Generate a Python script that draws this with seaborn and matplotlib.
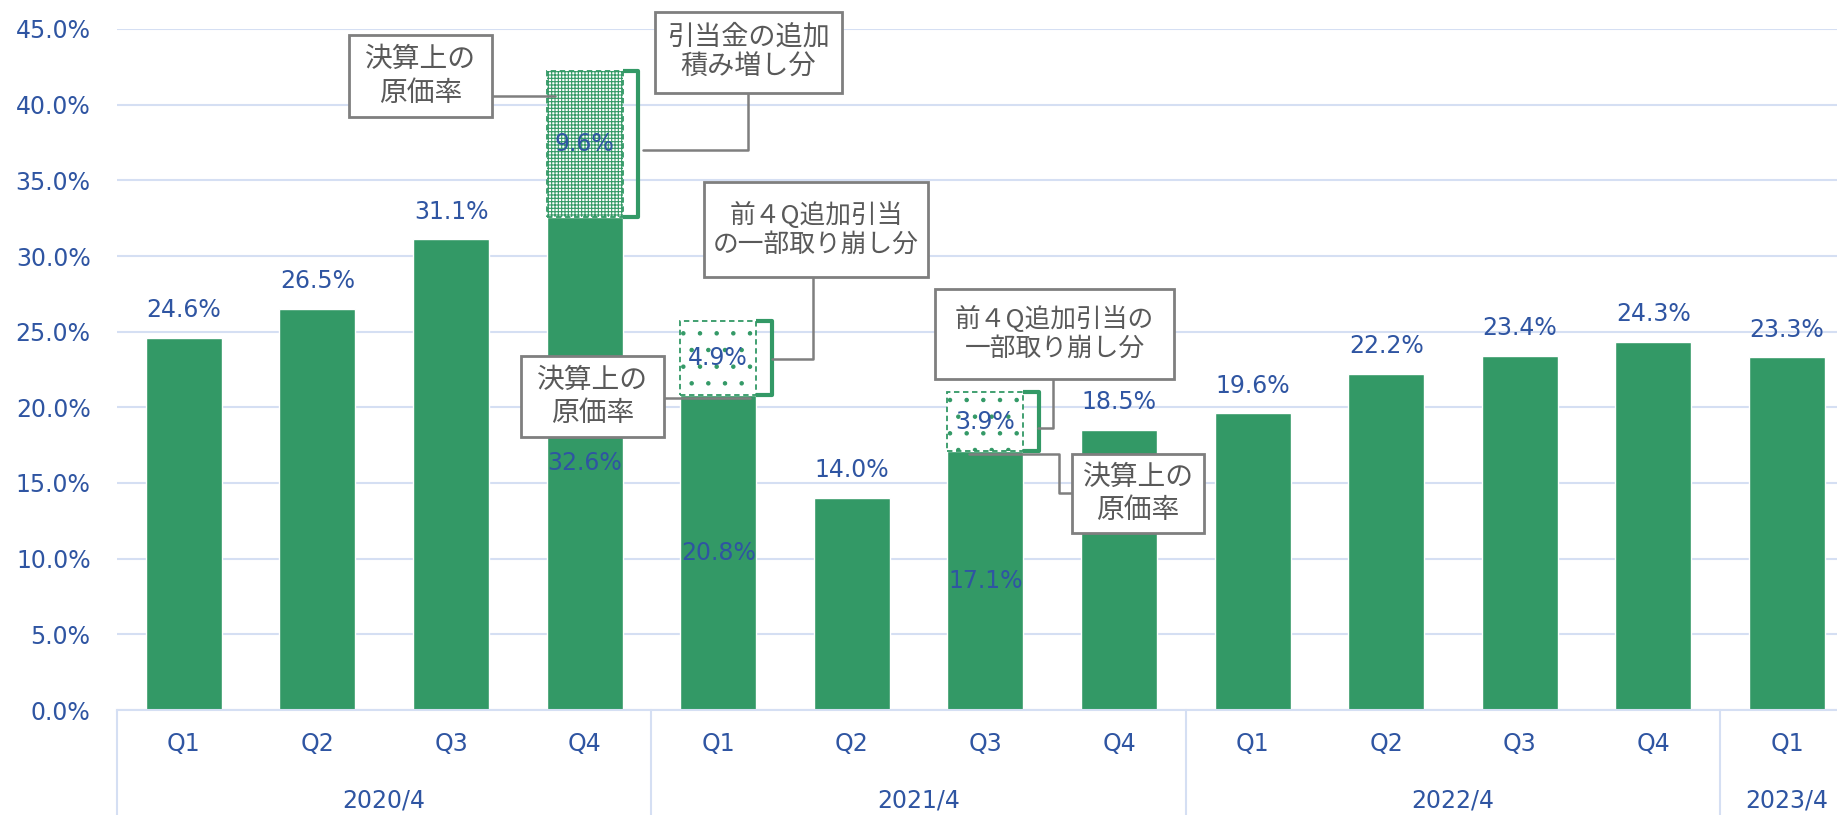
import numpy as np
import pandas as pd
import matplotlib
matplotlib.use('Agg')
import matplotlib.pyplot as plt
import seaborn as sns
from matplotlib.patches import Rectangle
from matplotlib.ticker import MultipleLocator, FuncFormatter
from matplotlib.transforms import blended_transform_factory

# ---------------- data ----------------
quarters = ['Q1', 'Q2', 'Q3', 'Q4', 'Q1', 'Q2', 'Q3', 'Q4', 'Q1', 'Q2', 'Q3', 'Q4', 'Q1']
fiscal_years = ['2020/4', '2021/4', '2022/4', '2023/4']
quarters_per_year = [4, 4, 4, 1]
cost_ratio = [24.6, 26.5, 31.1, 32.6, 20.8, 14.0, 17.1, 18.5, 19.6, 22.2, 23.4, 24.3, 23.3]
adjust_index = [3, 4, 6]
adjust_value = [9.6, 4.9, 3.9]
note_texts = ['決算上の\n原価率', '引当金の追加\n積み増し分', '前４Q追加引当\nの一部取り崩し分',
              '決算上の\n原価率', '前４Q追加引当の\n一部取り崩し分', '決算上の\n原価率']

# ---------------- style ----------------
GREEN = '#339966'
BLUE = '#2F55A2'
GRID = '#D5DFF3'
BOXEDGE = '#7F7F7F'
BOXTEXT = '#595959'
W, H = 1837, 815
BAR_W = 0.57

sns.set_theme(style='white')
plt.rcParams['font.family'] = ['DejaVu Sans', 'Noto Sans CJK JP']
plt.rcParams['hatch.linewidth'] = 0.8

fig = plt.figure(figsize=(W / 100, H / 100), dpi=100)
ax = fig.add_axes([117 / W, (H - 710) / H, (W - 117) / W, (710 - 29) / H])

periods = [f'{fy} {q}' for fy, n in zip(fiscal_years, quarters_per_year)
           for q in quarters[:n]]
df = pd.DataFrame({'period': periods, 'rate': cost_ratio})
sns.barplot(data=df, x='period', y='rate', order=periods, color=GREEN,
            saturation=1, width=BAR_W, errorbar=None, ax=ax, zorder=2)

ax.set_xlim(-0.5, -0.5 + (W - 117) / 133.6)
ax.set_ylim(0, 45)
ax.yaxis.set_major_locator(MultipleLocator(5))
ax.yaxis.set_major_formatter(FuncFormatter(lambda v, _: f'{v:.1f}%'))
ax.grid(axis='y', color=GRID, lw=1.5)
ax.grid(axis='x', visible=False)
ax.set_axisbelow(True)
for s in ['left', 'right', 'top']:
    ax.spines[s].set_visible(False)
ax.spines['bottom'].set_color(GRID)
ax.spines['bottom'].set_linewidth(1.5)
ax.tick_params(axis='y', length=0, pad=19, labelsize=17, labelcolor=BLUE)
ax.tick_params(axis='x', length=0, pad=16, labelsize=17, labelcolor=BLUE)
ax.set_xticks(range(len(quarters)))
ax.set_xticklabels(quarters)
ax.set_xlabel('')
ax.set_ylabel('')

# year group separators & labels
trans = blended_transform_factory(ax.transData, ax.transAxes)
bottom_frac = -(H - 710) / (710 - 29)
bounds = -0.5 + np.cumsum([0] + quarters_per_year)
for b in bounds:
    ax.plot([b, b], [0, bottom_frac], transform=trans, color=GRID, lw=1.5,
            clip_on=False, zorder=1)
for fy, start, n in zip(fiscal_years, bounds[:-1], quarters_per_year):
    ax.text(start + 0.5 + (n - 1) / 2, -(800 - 710) / (710 - 29), fy,
            transform=trans, ha='center', va='center', fontsize=17, color=BLUE)

# data labels
for i, v in enumerate(cost_ratio):
    if i in adjust_index:
        ax.text(i, v / 2, f'{v:.1f}%', ha='center', va='center', fontsize=17,
                color=BLUE, zorder=6)
    else:
        ax.annotate(f'{v:.1f}%', (i, v), xytext=(0, 20), textcoords='offset points',
                    ha='center', va='center', fontsize=17, color=BLUE, zorder=6)

# adjustment overlays
for k, (i, e) in enumerate(zip(adjust_index, adjust_value)):
    base = cost_ratio[i]
    ax.bar(i, e, bottom=base, width=BAR_W, facecolor='white', edgecolor=GREEN,
           hatch='+++++' if k == 0 else '.', linestyle=(0, (3, 2)), linewidth=1.3,
           zorder=3)
    ax.text(i, base + e / 2, f'{e:.1f}%', ha='center', va='center', fontsize=17,
            color=BLUE, zorder=6)
    xr = i + BAR_W / 2
    xb = xr + 0.115
    ax.plot([xr, xb, xb, xr], [base + e, base + e, base, base], color=GREEN, lw=3,
            solid_joinstyle='round', solid_capstyle='butt', zorder=4, clip_on=False)

# callouts (pixel layout of the reference)
note_boxes_px = [
    (349, 35, 492, 117),
    (655, 12, 842, 93),
    (704, 182, 928, 277),
    (521, 356, 664, 437),
    (935, 289, 1174, 379),
    (1072, 454, 1204, 533),
]
note_sizes = [20, 19.5, 18.5, 20, 18.5, 20]
leaders_px = [
    [(492, 96), (555, 96)],
    [(748, 93), (748, 150), (643, 150)],
    [(813, 277), (813, 359), (772, 359)],
    [(664, 398), (750, 398)],
    [(1053, 379), (1053, 428), (1038, 428)],
    [(1072, 493), (1059, 493), (1059, 454), (969, 454)],
]
inv = ax.transData.inverted()


def to_data(pts):
    return inv.transform([(px, H - py) for px, py in pts])


for txt, fs, (x0, y0, x1, y1), lead in zip(note_texts, note_sizes, note_boxes_px, leaders_px):
    (dx0, dy1), (dx1, dy0) = to_data([(x0, y0), (x1, y1)])
    ax.add_patch(Rectangle((dx0, dy0), dx1 - dx0, dy1 - dy0, facecolor='white',
                           edgecolor=BOXEDGE, lw=2, zorder=7, clip_on=False))
    ax.text((dx0 + dx1) / 2, (dy0 + dy1) / 2, txt, ha='center', va='center',
            fontsize=fs, color=BOXTEXT, linespacing=1.15, zorder=8,
            family=['Noto Sans CJK JP', 'DejaVu Sans'], clip_on=False)
    lp = to_data(lead)
    ax.plot(lp[:, 0], lp[:, 1], color=BOXEDGE, lw=1.8, zorder=6, clip_on=False)

fig.savefig('out.png', dpi=100)
